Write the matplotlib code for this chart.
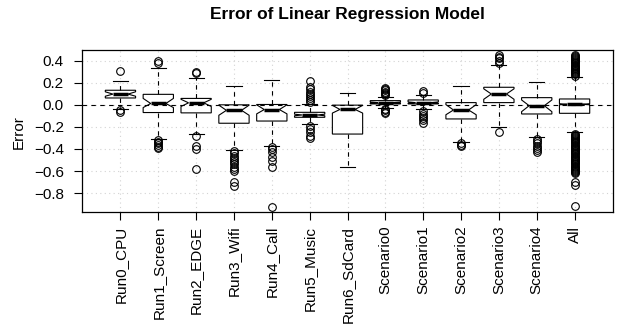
import matplotlib
matplotlib.use('Agg')
import matplotlib.pyplot as plt

plt.rcParams['font.family'] = ['Liberation Sans', 'DejaVu Sans']

# Boxplot summary
groups = ['Run0_CPU', 'Run1_Screen', 'Run2_EDGE', 'Run3_Wifi', 'Run4_Call', 'Run5_Music',
          'Run6_SdCard', 'Scenario0', 'Scenario1', 'Scenario2', 'Scenario3', 'Scenario4', 'All']
q1 = [0.062, -0.070, -0.073, -0.167, -0.147, -0.113, -0.265, 0.008, 0.008, -0.128, 0.020, -0.083, -0.077]
med = [0.097, 0.012, 0.018, -0.050, -0.043, -0.092, -0.042, 0.020, 0.020, -0.047, 0.098, -0.008, 0.005]
q3 = [0.132, 0.095, 0.058, 0.000, 0.003, -0.068, -0.003, 0.038, 0.044, 0.020, 0.159, 0.065, 0.053]
ci_lo = [0.078, -0.025, -0.015, -0.095, -0.082, -0.099, -0.075, 0.015, 0.014, -0.090, 0.050, -0.062, 0.000]
ci_hi = [0.118, 0.058, 0.050, -0.003, 0.000, -0.085, -0.005, 0.025, 0.026, 0.002, 0.145, 0.044, 0.010]
whisk_lo = [-0.035, -0.310, -0.265, -0.410, -0.370, -0.175, -0.560, -0.032, -0.040, -0.335, -0.205, -0.295, -0.250]
whisk_hi = [0.220, 0.330, 0.240, 0.170, 0.225, 0.010, 0.110, 0.074, 0.092, 0.170, 0.365, 0.210, 0.255]

outliers = [
    [0.305, -0.048, -0.062],
    [0.400, 0.375, -0.320, -0.335, -0.350, -0.365, -0.380, -0.390],
    [0.300, 0.290, -0.285, -0.370, -0.400, -0.580],
    [-0.420, -0.440, -0.460, -0.480, -0.500, -0.520, -0.540, -0.560, -0.580, -0.600, -0.700, -0.735],
    [-0.380, -0.400, -0.430, -0.470, -0.510, -0.560, -0.925],
    [0.025, 0.040, 0.060, 0.080, 0.100, 0.120, 0.140, 0.165, 0.215,
     -0.190, -0.215, -0.245, -0.280, -0.300],
    [],
    [0.090, 0.100, 0.110, 0.120, 0.130, 0.145, 0.155, -0.040, -0.050, -0.065, -0.078],
    [0.110, 0.125, -0.060, -0.080, -0.100, -0.120, -0.140, -0.165],
    [-0.345, -0.360, -0.375],
    [0.380, 0.400, 0.420, 0.435, 0.455, -0.245],
    [-0.310, -0.330, -0.350, -0.370, -0.390, -0.410, -0.425],
    [0.265, 0.275, 0.285, 0.295, 0.305, 0.315, 0.325, 0.335, 0.345, 0.355, 0.365, 0.375,
     0.385, 0.395, 0.405, 0.415, 0.425, 0.435, 0.445, 0.455,
     -0.260, -0.270, -0.280, -0.290, -0.300, -0.310, -0.320, -0.330, -0.340, -0.350,
     -0.360, -0.370, -0.380, -0.390, -0.400, -0.410, -0.420, -0.430, -0.440, -0.450,
     -0.460, -0.470, -0.480, -0.490, -0.500, -0.510, -0.520, -0.530, -0.540, -0.550,
     -0.560, -0.570, -0.580, -0.590, -0.600, -0.610, -0.620, -0.700, -0.730, -0.920],
]

y_ticks = [-0.8, -0.6, -0.4, -0.2, 0.0, 0.2, 0.4]

stats = []
for i in range(len(groups)):
    stats.append(dict(label=groups[i], q1=q1[i], med=med[i], q3=q3[i],
                      cilo=ci_lo[i], cihi=ci_hi[i],
                      whislo=whisk_lo[i], whishi=whisk_hi[i], fliers=outliers[i]))

fig, ax = plt.subplots(figsize=(6.2, 3.31), dpi=100)
fig.subplots_adjust(left=0.132, right=0.989, top=0.849, bottom=0.360)

ax.set_axisbelow(True)
ax.grid(True, color='lightgray', linestyle=(0, (1, 3)), linewidth=0.8)

pos = list(range(1, len(groups) + 1))
ax.bxp(stats, positions=pos, widths=0.8, shownotches=True, patch_artist=True,
       boxprops=dict(facecolor='white', edgecolor='black', linewidth=0.8),
       whiskerprops=dict(color='black', linestyle=(0, (4, 4)), linewidth=0.8),
       capprops=dict(color='black', linewidth=0.8),
       medianprops=dict(color='black', linewidth=2.5),
       flierprops=dict(marker='o', markerfacecolor='none', markeredgecolor='black',
                       markersize=5.5, markeredgewidth=0.8))

ax.axhline(0, color='black', linestyle=(0, (4, 4)), linewidth=0.8, zorder=5)

ax.set_xlim(-0.02, 14.02)
ax.set_ylim(-0.97, 0.497)
ax.set_yticks(y_ticks)
ax.set_yticklabels([('%.1f' % v).replace('-', '\u2212') for v in y_ticks])
ax.set_xticks(pos)
ax.set_xticklabels(groups, rotation=90)
ax.tick_params(direction='out', length=6, width=0.8, labelsize=11)
ax.tick_params(axis='x', pad=4)
ax.tick_params(axis='y', pad=7)
for sp in ax.spines.values():
    sp.set_linewidth(0.9)

fig.text(347.5 / 620, 1 - 14 / 331, 'Error of Linear Regression Model',
         ha='center', va='center', fontsize=12.5, fontweight='bold')
fig.text(19 / 620, 1 - 132 / 331, 'Error', rotation=90, ha='center', va='center', fontsize=11)

fig.savefig('out.png', dpi=100)
